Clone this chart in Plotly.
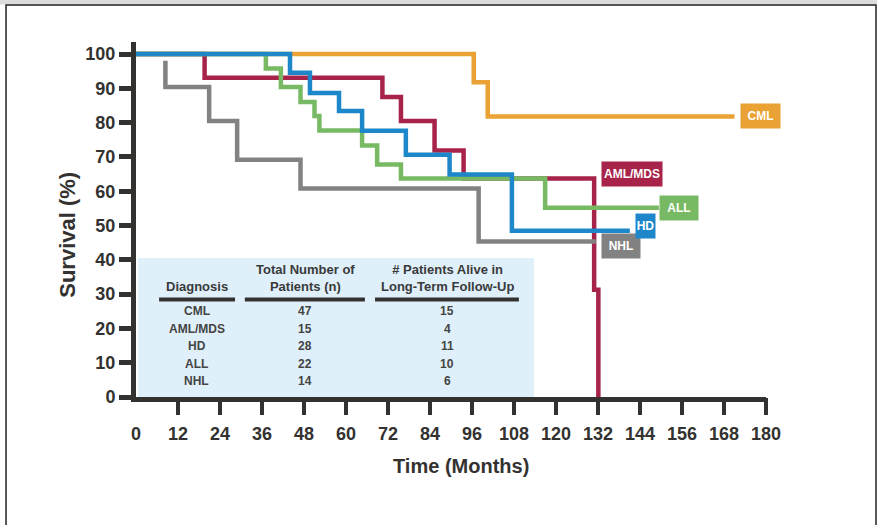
import plotly.graph_objects as go

# Kaplan-Meier survival by diagnosis: follow-up time (months) and survival (%)
cml_t = [0, 96.5, 100.5, 171]
cml_s = [100, 91.8, 81.8, 81.8]

aml_t = [0, 19.6, 70.4, 75.7, 85.3, 93.6, 130.9, 132.1]
aml_s = [100, 93.1, 87.5, 80.5, 71.9, 63.7, 31.3, 0]

nhl_t = [8.4, 8.4, 20.9, 28.9, 47, 97.9, 131.4]
nhl_s = [98, 90.4, 80.5, 69.2, 60.8, 45.3, 45.3]

all_t = [0, 37.1, 41.4, 47, 51, 52.4, 64.6, 68.9, 75.7, 116.9, 149.4]
all_s = [100, 95.8, 90.4, 86.0, 81.9, 77.7, 73.3, 67.8, 63.7, 55.2, 55.2]

hd_t = [0, 44, 49.7, 58, 64.6, 77.1, 89.6, 107.4, 141.1]
hd_s = [100, 94.5, 88.6, 83.4, 77.6, 70.6, 64.9, 48.5, 48.5]

# Summary table
diagnoses = ["CML", "AML/MDS", "HD", "ALL", "NHL"]
total_patients = ["47", "15", "28", "22", "14"]
followup_patients = ["15", "4", "11", "10", "6"]

x_ticks = list(range(0, 181, 12))
y_ticks = list(range(0, 101, 10))

DARK = "#333230"
FONT = "Liberation Sans, Arial, sans-serif"

# name, times, survival, colour, (time index, survival index) the label sits by,
# label x-shift, label y-shift, label width (drawing order: bottom to top)
series = [
    ("CML", cml_t, cml_s, "#E9A233", (-1, -1), 5, 0, 39),
    ("AML/MDS", aml_t, aml_s, "#A8234A", (-2, -3), 7, 5, 60),
    ("NHL", nhl_t, nhl_s, "#828282", (-1, -1), 5, -4.5, 38),
    ("ALL", all_t, all_s, "#78BA63", (-1, -1), 0, 0, 38),
    ("HD", hd_t, hd_s, "#1D87C9", (-1, -1), 5, 4.5, 19),
]

fig = go.Figure()
annotations = []
for name, t, s, color, (ti, si), dx, dy, w in series:
    fig.add_trace(go.Scatter(
        x=t, y=s, mode="lines", name=name,
        line=dict(color=color, width=4.5, shape="hv"),
        showlegend=False, hoverinfo="skip",
    ))
    annotations.append(dict(
        x=t[ti], y=s[si], xref="x", yref="y", text=name, showarrow=False,
        xanchor="left", yanchor="middle", xshift=dx, yshift=dy,
        width=w, height=24, bgcolor=color, borderpad=0,
        font=dict(family=FONT, size=12, color="white", weight="bold"),
    ))

# invisible trace so the overlay tick axis is drawn
fig.add_trace(go.Scatter(x=[0], y=[0], xaxis="x2", mode="markers",
                         marker=dict(opacity=0), showlegend=False, hoverinfo="skip"))

# summary table text
col_x = [17.4, 48.3, 88.9]
row_y = [25.1, 19.8, 14.9, 9.6, 4.7]
headers = ["Diagnosis", "Total Number of<br>Patients (n)",
           "# Patients Alive in<br>Long-Term Follow-Up"]
for cx, h in zip(col_x, headers):
    annotations.append(dict(
        x=cx, y=29.4, xref="x", yref="y", text=h, showarrow=False,
        xanchor="center", yanchor="bottom", align="center",
        font=dict(family=FONT, size=13, color="#3a3a3a", weight="bold"),
    ))
for col, cx in zip([diagnoses, total_patients, followup_patients], col_x):
    for val, ry in zip(col, row_y):
        annotations.append(dict(
            x=cx, y=ry, xref="x", yref="y", text=val, showarrow=False,
            xanchor="center", yanchor="middle",
            font=dict(family=FONT, size=12, color="#444444", weight="bold"),
        ))

# axis titles
annotations.append(dict(
    x=0.516, y=-0.195, xref="paper", yref="paper", text="Time (Months)",
    showarrow=False, xanchor="center", yanchor="middle",
    font=dict(family=FONT, size=20, color=DARK, weight="bold"),
))
annotations.append(dict(
    x=-0.109, y=0.458, xref="paper", yref="paper", text="Survival (%)",
    showarrow=False, xanchor="center", yanchor="middle", textangle=-90,
    font=dict(family=FONT, size=22, color=DARK, weight="bold"),
))

shapes = [
    # table background
    dict(type="rect", xref="x", yref="y", x0=0.6, x1=113.7, y0=0, y1=40.5,
         fillcolor="#DFF0FA", line=dict(width=0), layer="below"),
    # header rules
    dict(type="line", xref="x", yref="y", x0=6.6, x1=28.3, y0=28.4, y1=28.4,
         line=dict(color=DARK, width=4)),
    dict(type="line", xref="x", yref="y", x0=31.1, x1=65.4, y0=28.4, y1=28.4,
         line=dict(color=DARK, width=4)),
    dict(type="line", xref="x", yref="y", x0=68.3, x1=109.4, y0=28.4, y1=28.4,
         line=dict(color=DARK, width=4)),
    # page strip and frame
    dict(type="rect", xref="paper", yref="paper", x0=-0.23, x1=1.19,
         y0=1.1056, y1=1.12, fillcolor="#DCDCDC", line=dict(width=0)),
    dict(type="rect", xref="paper", yref="paper", x0=-0.2063, x1=1.1746,
         y0=-0.37, y1=1.1042, line=dict(color="#222222", width=1.5)),
]

fig.update_layout(
    width=877, height=525, autosize=False,
    margin=dict(l=136, r=111, t=42, b=128),
    paper_bgcolor="white", plot_bgcolor="white",
    showlegend=False,
    annotations=annotations, shapes=shapes,
    xaxis=dict(
        range=[0, 180], tickmode="array", tickvals=x_ticks,
        ticks="outside", ticklen=17, tickwidth=3.5, tickcolor="rgba(0,0,0,0)",
        showline=True, linewidth=4.5, linecolor=DARK,
        showgrid=False, zeroline=False,
        tickfont=dict(family=FONT, size=18, color=DARK, weight="bold"),
    ),
    xaxis2=dict(
        range=[0, 180], overlaying="x", anchor="y", side="bottom",
        tickmode="array", tickvals=x_ticks[1:],
        ticks="outside", ticklen=17, tickwidth=3.5, tickcolor=DARK,
        showticklabels=False, showline=False, showgrid=False, zeroline=False,
    ),
    yaxis=dict(
        range=[0, 103.5], tickmode="array", tickvals=y_ticks,
        ticks="outside", ticklen=12, tickwidth=4.5, tickcolor=DARK,
        showline=True, linewidth=5, linecolor=DARK,
        showgrid=False, zeroline=False,
        tickfont=dict(family=FONT, size=18, color=DARK, weight="bold"),
    ),
)

fig.write_html("out.html")
